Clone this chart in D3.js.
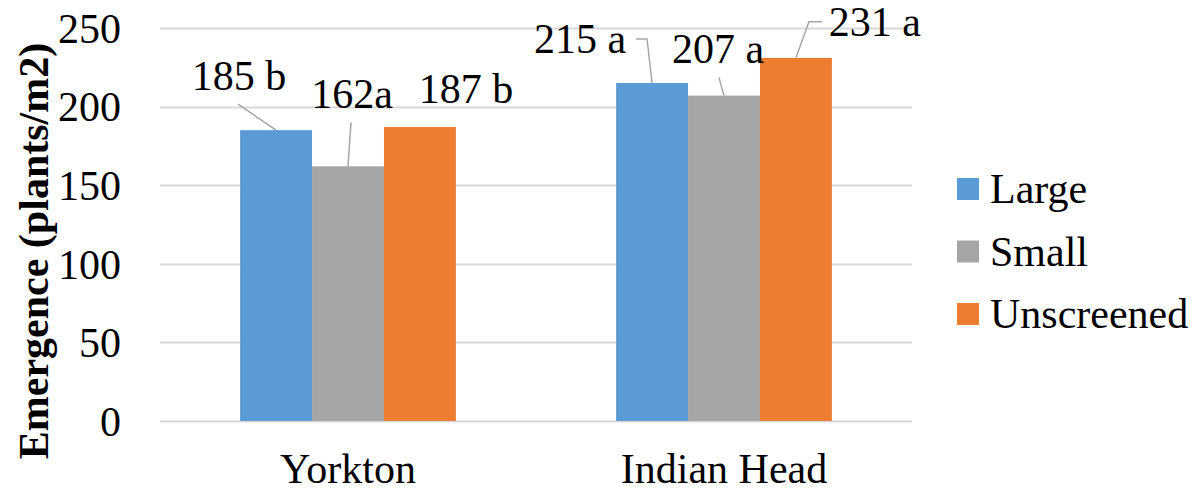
<!DOCTYPE html>
<html>
<head>
<meta charset="utf-8">
<script src="https://cdn.jsdelivr.net/npm/d3@7"></script>
</head>
<body style="margin:0">
<svg id="chart" width="1198" height="491" style="font-family:'Liberation Serif'"></svg>
<script>
// Site names along the x axis
const sites = ["Yorkton", "Indian Head"];
// Seed size classes (series)
const series = ["Large", "Small", "Unscreened"];
// Plant emergence (plants/m2) per site, one array per series
const large = [185, 215];
const small = [162, 207];
const unscreened = [187, 231];
// Value labels with mean-separation letters
const largeLabels = ["185 b", "215 a"];
const smallLabels = ["162a", "207 a"];
const unscreenedLabels = ["187 b", "231 a"];
// Y axis ticks
const yTicks = [0, 50, 100, 150, 200, 250];

const FONT = "Liberation Serif";
const FONT_SIZE = "42px";
const colors = { Large: "#5B9BD5", Small: "#A5A5A5", Unscreened: "#ED7D31" };

// Data-label placement relative to the top centre of each bar:
// text anchor (dx, dy) and optional leader-line path points.
const labelLayout = {
  "Large|Yorkton":           { dx: -37, dy: -40, leader: [[0, 0], [-38, -26]] },
  "Small|Yorkton":           { dx: 4,   dy: -58, leader: [[0, 0], [3, -44]] },
  "Unscreened|Yorkton":      { dx: 46,  dy: -24, leader: null },
  "Large|Indian Head":       { dx: -72, dy: -30, leader: [[0, 0], [-5, -44], [-16, -44]] },
  "Small|Indian Head":       { dx: -6,  dy: -33, leader: [[0, 0], [-5, -18]] },
  "Unscreened|Indian Head":  { dx: 79,  dy: -22, leader: [[0, 0], [13, -36], [26, -36]] }
};

const table = sites.map((s, i) => ({
  site: s,
  values: [
    { key: "Large", value: large[i], label: largeLabels[i] },
    { key: "Small", value: small[i], label: smallLabels[i] },
    { key: "Unscreened", value: unscreened[i], label: unscreenedLabels[i] }
  ]
}));

const svg = d3.select("#chart");
const plot = { left: 160, right: 912, top: 28, bottom: 421 };

const x0 = d3.scaleBand()
  .domain(sites)
  .range([plot.left, plot.right])
  .paddingInner(0.426)
  .paddingOuter(0.213);

const x1 = d3.scaleBand()
  .domain(series)
  .range([0, x0.bandwidth()])
  .padding(0);

const y = d3.scaleLinear().domain([0, 250]).range([plot.bottom, plot.top]);

function serif(sel) {
  return sel.attr("font-family", FONT)
    .attr("font-size", FONT_SIZE)
    .style("font-family", `"${FONT}"`)
    .style("font-size", FONT_SIZE)
    .attr("fill", "#000");
}

// Horizontal gridlines
svg.append("g")
  .selectAll("line")
  .data(yTicks)
  .join("line")
  .attr("x1", plot.left)
  .attr("x2", plot.right)
  .attr("y1", d => Math.round(y(d)) + 0.5)
  .attr("y2", d => Math.round(y(d)) + 0.5)
  .attr("stroke", "#D9D9D9")
  .attr("stroke-width", 2);

// Y axis tick labels
const yAxis = d3.axisLeft(y).tickValues(yTicks).tickSize(0).tickPadding(0);
const yg = svg.append("g")
  .attr("transform", `translate(121,0)`)
  .call(yAxis);
serif(yg);
yg.select(".domain").remove();
serif(yg.selectAll("text")).attr("dy", "0.34em");

// X axis category labels
const xAxis = d3.axisBottom(x0).tickSize(0).tickPadding(0);
const xg = svg.append("g")
  .attr("transform", `translate(0,${plot.bottom})`)
  .call(xAxis);
serif(xg);
xg.select(".domain").remove();
serif(xg.selectAll("text")).attr("dy", null).attr("y", 62);

// Bars
const groups = svg.append("g")
  .selectAll("g")
  .data(table)
  .join("g")
  .attr("transform", d => `translate(${x0(d.site)},0)`);

groups.selectAll("rect")
  .data(d => d.values.map(v => ({ ...v, site: d.site })))
  .join("rect")
  .attr("x", d => x1(d.key))
  .attr("y", d => y(d.value))
  .attr("width", x1.bandwidth())
  .attr("height", d => y(0) - y(d.value))
  .attr("fill", d => colors[d.key]);

// Leader lines and value labels
const labels = svg.append("g");
table.forEach(g => {
  g.values.forEach(v => {
    const cx = x0(g.site) + x1(v.key) + x1.bandwidth() / 2;
    const cy = y(v.value);
    const lay = labelLayout[v.key + "|" + g.site];
    if (lay.leader) {
      labels.append("path")
        .attr("d", d3.line()(lay.leader.map(p => [cx + p[0], cy + p[1]])))
        .attr("fill", "none")
        .attr("stroke", "#A6A6A6")
        .attr("stroke-width", 1.5);
    }
    serif(labels.append("text"))
      .attr("x", cx + lay.dx)
      .attr("y", cy + lay.dy)
      .attr("text-anchor", "middle")
      .text(v.label);
  });
});

// Y axis title
serif(svg.append("text"))
  .attr("transform", `translate(48,251) rotate(-90)`)
  .attr("text-anchor", "middle")
  .attr("font-weight", "bold")
  .style("font-weight", "bold")
  .text("Emergence (plants/m2)");

// Legend
const legend = svg.append("g")
  .selectAll("g")
  .data(series)
  .join("g")
  .attr("transform", (d, i) => `translate(957,${178 + i * 62.5})`);
legend.append("rect")
  .attr("width", 22)
  .attr("height", 22)
  .attr("fill", d => colors[d]);
serif(legend.append("text"))
  .attr("x", 33)
  .attr("y", 11)
  .attr("dy", "0.34em")
  .text(d => d);
</script>
</body>
</html>
